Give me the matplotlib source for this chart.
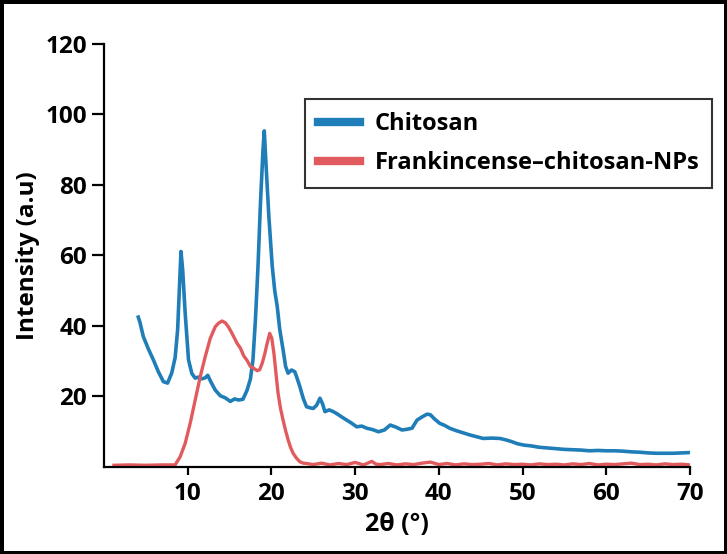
import matplotlib
matplotlib.use("Agg")
import matplotlib.pyplot as plt

plt.rcParams['font.family'] = ['Open Sans', 'DejaVu Sans']
plt.rcParams['font.weight'] = 'bold'

# XRD pattern
chitosan_2theta = [
    4.1, 4.3, 4.7, 5.3, 5.9, 6.5, 7.1, 7.6, 8.1, 8.5,
    8.8, 9.0, 9.2, 9.4, 9.7, 10.1, 10.5, 10.9, 11.3, 11.7,
    12.1, 12.4, 12.8, 13.3, 13.9, 14.5, 15.1, 15.6, 16.1, 16.6,
    17.1, 17.5, 17.8, 18.1, 18.4, 18.7, 19.0, 19.15, 19.4, 19.7,
    20.1, 20.4, 20.7, 21.0, 21.4, 21.7, 22.0, 22.4, 22.8, 23.1,
    23.4, 23.8, 24.2, 24.6, 25.0, 25.4, 25.8, 26.1, 26.4, 26.9,
    27.4, 27.9, 28.4, 29.0, 29.6, 30.2, 30.8, 31.4, 32.1, 32.8,
    33.5, 34.2, 34.9, 35.6, 36.2, 36.8, 37.4, 38.0, 38.6, 39.0,
    39.5, 40.1, 40.7, 41.3, 42.1, 42.9, 43.7, 44.5, 45.3, 46.3,
    47.3, 48.0, 48.7, 49.4, 50.2, 51.0, 52.0, 53.0, 54.0, 55.0,
    56.0, 57.0, 58.0, 59.0, 60.0, 61.0, 62.0, 63.0, 64.0, 65.0,
    66.0, 67.0, 68.0, 69.0, 70.0,
]
chitosan_int = [
    42.5, 41.0, 37.0, 33.5, 30.4, 27.0, 24.2, 23.8, 26.7, 31.0,
    38.9, 50.0, 61.1, 56.0, 43.7, 30.4, 26.5, 25.2, 25.5, 25.0,
    25.3, 26.0, 24.0, 21.8, 20.2, 19.6, 18.6, 19.3, 19.0, 19.2,
    21.8, 25.0, 30.4, 42.0, 56.8, 75.0, 90.0, 95.3, 84.0, 71.0,
    57.0, 50.0, 45.5, 39.0, 33.2, 28.5, 26.6, 27.5, 27.0, 25.0,
    22.8, 19.5, 17.1, 16.8, 16.6, 17.5, 19.5, 18.0, 15.7, 16.2,
    15.7, 15.0, 14.2, 13.3, 12.4, 11.4, 11.6, 11.0, 10.6, 10.0,
    10.5, 11.9, 11.3, 10.5, 10.7, 11.0, 13.3, 14.2, 15.0, 14.8,
    13.6, 12.4, 11.8, 11.0, 10.3, 9.7, 9.1, 8.6, 8.1, 8.2,
    8.1, 7.7, 7.2, 6.6, 6.2, 6.0, 5.6, 5.4, 5.2, 5.0,
    4.9, 4.8, 4.6, 4.7, 4.6, 4.6, 4.5, 4.3, 4.2, 4.0,
    3.9, 3.9, 3.9, 4.0, 4.1,
]

np_2theta = [
    1.2, 3.0, 5.0, 7.0, 8.5, 9.1, 9.7, 10.3, 10.9, 11.5,
    12.1, 12.7, 13.3, 13.7, 14.1, 14.5, 14.9, 15.3, 15.9, 16.3,
    16.7, 17.1, 17.5, 17.9, 18.3, 18.6, 18.9, 19.2, 19.5, 19.8,
    20.05, 20.3, 20.55, 20.8, 21.1, 21.4, 21.7, 22.0, 22.3, 22.6,
    23.0, 23.4, 23.8, 24.2, 25.0, 26.0, 27.0, 28.0, 29.0, 30.0,
    31.0, 32.0, 32.5, 33.0, 34.0, 35.0, 36.0, 37.0, 38.0, 39.0,
    40.0, 41.0, 42.0, 43.0, 44.0, 45.0, 46.0, 47.0, 48.0, 49.0,
    50.0, 51.0, 52.0, 53.0, 54.0, 55.0, 56.0, 57.0, 58.0, 59.0,
    60.0, 61.0, 62.0, 63.0, 64.0, 65.0, 66.0, 67.0, 68.0, 69.0,
    70.0,
]
np_int = [
    0.5, 0.6, 0.5, 0.6, 0.6, 2.9, 6.7, 12.4, 19.0, 25.6,
    31.3, 36.5, 39.8, 40.8, 41.4, 40.9, 39.6, 37.9, 35.1, 33.7,
    31.5, 30.2, 28.5, 28.0, 27.3, 27.6, 29.4, 32.0, 35.1, 37.9,
    36.5, 32.3, 26.5, 20.9, 16.5, 13.3, 10.3, 7.7, 5.5, 3.9,
    2.5, 1.5, 1.1, 1.0, 0.7, 1.1, 0.6, 1.0, 0.7, 1.3,
    0.6, 1.6, 0.8, 0.7, 1.0, 0.6, 0.9, 0.7, 1.1, 1.4,
    0.7, 1.0, 0.6, 0.9, 0.7, 0.8, 1.0, 0.6, 0.9, 0.7,
    0.8, 0.6, 0.9, 0.7, 0.8, 0.6, 0.9, 0.7, 1.0, 0.6,
    0.8, 0.7, 0.9, 1.1, 0.7, 0.8, 0.6, 0.9, 0.7, 0.8,
    0.6,
]

labels = ['Chitosan', 'Frankincense\u2013chitosan-NPs']
blue = '#1f7db8'
red = '#e15b5e'

fig = plt.figure(figsize=(7.27, 5.54), dpi=100, edgecolor='black', linewidth=5)
ax = fig.add_axes([0.143, 0.157, 0.806, 0.764])

ax.plot(chitosan_2theta, chitosan_int, color=blue, lw=2.6, label=labels[0], solid_joinstyle='round')
ax.plot(np_2theta, np_int, color=red, lw=2.4, label=labels[1], solid_joinstyle='round')

ax.set_xlim(0, 70)
ax.set_ylim(0, 120)
ax.set_xticks([10, 20, 30, 40, 50, 60, 70])
ax.set_yticks([20, 40, 60, 80, 100, 120])
for s in ['top', 'right']:
    ax.spines[s].set_visible(False)
for s in ['left', 'bottom']:
    ax.spines[s].set_linewidth(1.6)
ax.tick_params(axis='y', length=9, width=1.6, labelsize=17.5, pad=3)
ax.tick_params(axis='x', length=6, width=1.6, labelsize=17.5, pad=5)

ax.set_ylabel('Intensity (a.u)', fontsize=17.5, fontweight='bold', labelpad=4)
ax.set_xlabel('2\u03b8 (\u00b0)', fontsize=18, fontweight='bold', labelpad=4)

leg = ax.legend(loc='upper left', bbox_to_anchor=(305 / 727, 1 - 99 / 554),
                bbox_transform=fig.transFigure, borderaxespad=0,
                fontsize=17, frameon=True, fancybox=False,
                handlelength=1.8, handletextpad=0.6, labelspacing=0.65,
                borderpad=0.55)
leg.get_frame().set_edgecolor('black')
leg.get_frame().set_linewidth(1.5)
for h in leg.get_lines():
    h.set_linewidth(6)

fig.savefig('out.png', dpi=100, edgecolor=fig.get_edgecolor())
